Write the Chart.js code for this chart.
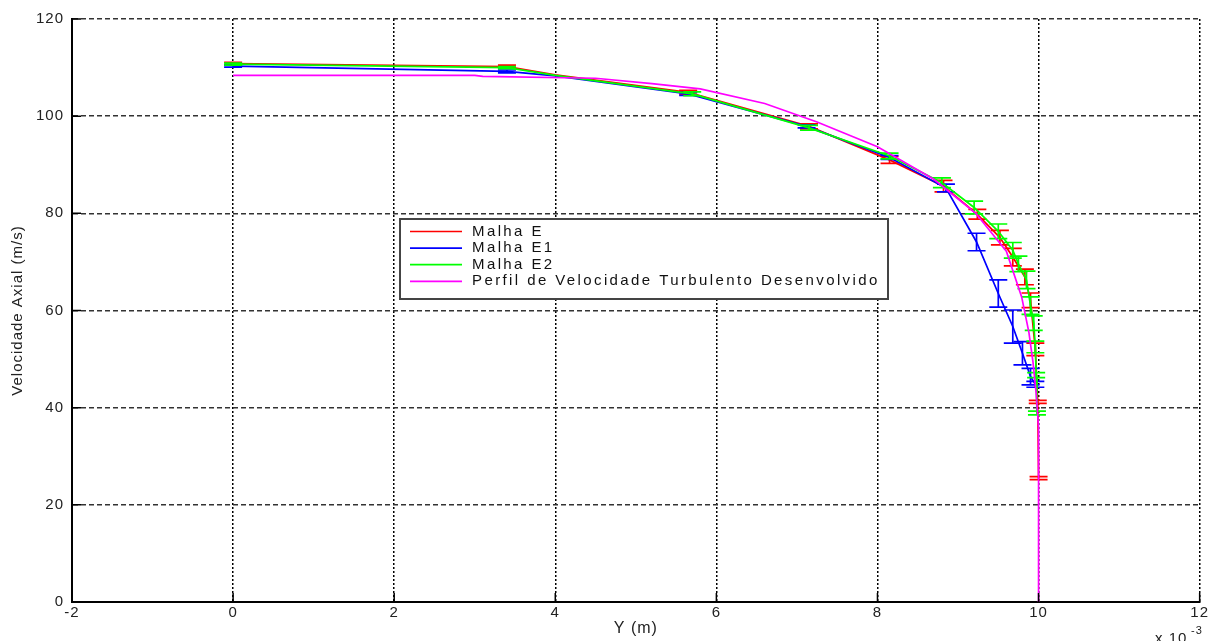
<!DOCTYPE html>
<html>
<head>
<meta charset="utf-8">
<title>Perfil de velocidade axial</title>
<script src="https://cdn.jsdelivr.net/npm/chart.js@4.4.1/dist/chart.umd.min.js"></script>
<style>
  html, body { margin: 0; padding: 0; background: #fff; }
  #wrap { width: 1210px; height: 641px; position: relative; }
</style>
</head>
<body>
<div id="wrap"><canvas id="perfil"></canvas></div>
<script>
// raio em mm (eixo mostrado como x 10^-3 m), velocidade em m/s
const xTicks = [-2, 0, 2, 4, 6, 8, 10, 12];
const yTicks = [0, 20, 40, 60, 80, 100, 120];

const posE  = [0, 3.4, 4.0, 5.65, 7.15, 8.15, 8.82, 9.24, 9.52, 9.68, 9.83, 9.9, 9.96, 9.99, 10.0];
const velE  = [110.8, 110.2, 108.5, 104.9, 97.9, 91.0, 85.6, 79.8, 75.0, 71.0, 66.9, 62.1, 52.0, 41.2, 25.5];
const errE  = [0.3, 0.3, null, 0.4, 0.5, 0.7, 1.2, 1.0, 1.5, 1.8, 1.6, 1.5, 1.3, 0.3, 0.3];

const posE1 = [0, 3.4, 4.0, 5.65, 7.12, 8.15, 8.85, 9.23, 9.5, 9.68, 9.8, 9.9, 9.96];
const velE1 = [110.3, 109.2, 108.3, 104.6, 97.9, 91.5, 85.2, 74.1, 63.5, 56.7, 51.2, 46.4, 44.8];
const errE1 = [0.2, 0.3, null, 0.3, 0.3, 0.4, 0.8, 1.8, 2.8, 3.4, 2.4, 1.7, 0.6];

const posE2 = [0, 3.4, 4.0, 5.7, 7.15, 8.15, 8.8, 9.2, 9.5, 9.68, 9.75, 9.85, 9.9, 9.94, 9.96, 9.97, 9.98];
const velE2 = [110.7, 110.0, 108.4, 104.6, 97.6, 91.8, 86.3, 81.2, 76.3, 72.4, 69.6, 66.3, 61.0, 57.4, 52.5, 46.7, 38.9];
const errE2 = [0.2, 0.2, null, 0.4, 0.5, 0.6, 1.0, 1.3, 1.5, 1.6, 1.6, 1.8, 1.8, 1.5, 1.2, 0.5, 0.4];

const posPerfil = [0, 3.0, 3.1, 4.5, 5.2, 5.8, 6.6, 7.25, 8.0, 8.7, 9.22, 9.6, 9.79, 9.88, 9.93, 9.97, 10.0, 10.0];
const velPerfil = [108.4, 108.4, 108.2, 107.8, 106.7, 105.6, 102.6, 98.8, 93.7, 87.0, 80.0, 72.2, 62.8, 55.5, 49.5, 43.0, 36.0, 0];

const FONT = 'Liberation Sans';
const CAP = 9;

function pares(xs, ys) {
    return xs.map(function (x, i) { return { x: x, y: ys[i] }; });
}

function serie(label, xs, ys, cor, erro, ordem) {
    return {
        label: label,
        data: pares(xs, ys),
        borderColor: cor,
        backgroundColor: cor,
        borderWidth: 1.7,
        pointRadius: 0,
        tension: 0,
        order: ordem,
        erro: erro
    };
}

// texto um pouco espaçado em todo o gráfico
var espaco = {
    id: 'espaco',
    beforeDraw: function (chart) { chart.ctx.letterSpacing = '1px'; }
};

// barras de erro verticais com tracinhos nas pontas
var errorBars = {
    id: 'errorBars',
    afterDatasetDraw: function (chart, args) {
        var ds = chart.data.datasets[args.index];
        if (!ds.erro) return;
        var ctx = chart.ctx, sx = chart.scales.x, sy = chart.scales.y;
        ctx.save();
        ctx.strokeStyle = ds.borderColor;
        ctx.lineWidth = 1.7;
        ds.data.forEach(function (p, i) {
            var e = ds.erro[i];
            if (e == null) return;
            var px = sx.getPixelForValue(p.x);
            var top = sy.getPixelForValue(p.y + e);
            var bot = sy.getPixelForValue(p.y - e);
            ctx.beginPath();
            ctx.moveTo(px, top); ctx.lineTo(px, bot);
            ctx.moveTo(px - CAP, top); ctx.lineTo(px + CAP, top);
            ctx.moveTo(px - CAP, bot); ctx.lineTo(px + CAP, bot);
            ctx.stroke();
        });
        ctx.restore();
    }
};

// marcas internas dos eixos, legenda em caixa e o fator x 10^-3
var extras = {
    id: 'extras',
    afterDraw: function (chart) {
        var ctx = chart.ctx, a = chart.chartArea;
        var sx = chart.scales.x, sy = chart.scales.y;
        ctx.save();
        ctx.strokeStyle = '#000';
        ctx.lineWidth = 1.5;
        ctx.beginPath();
        xTicks.forEach(function (v) {
            var px = sx.getPixelForValue(v);
            ctx.moveTo(px, a.bottom); ctx.lineTo(px, a.bottom - 9);
        });
        yTicks.forEach(function (v) {
            var py = sy.getPixelForValue(v);
            ctx.moveTo(a.left, py); ctx.lineTo(a.left + 9, py);
        });
        ctx.stroke();

        // legenda
        var bx = 400, by = 219, bw = 488, bh = 80;
        ctx.fillStyle = '#fff';
        ctx.fillRect(bx, by, bw, bh);
        ctx.strokeStyle = '#444';
        ctx.lineWidth = 2;
        ctx.strokeRect(bx, by, bw, bh);
        ctx.font = '15px "' + FONT + '"';
        ctx.letterSpacing = '2.4px';
        ctx.textBaseline = 'middle';
        ctx.textAlign = 'left';
        chart.data.datasets.forEach(function (ds, i) {
            var ly = by + 12.5 + i * 16.6;
            ctx.strokeStyle = ds.borderColor;
            ctx.lineWidth = 1.7;
            ctx.beginPath();
            ctx.moveTo(bx + 10, ly); ctx.lineTo(bx + 62, ly);
            ctx.stroke();
            ctx.fillStyle = '#111';
            ctx.fillText(ds.label, bx + 72, ly);
        });

        // fator de escala do eixo x
        ctx.letterSpacing = '1px';
        ctx.fillStyle = '#222';
        ctx.textBaseline = 'alphabetic';
        ctx.font = '15px "' + FONT + '"';
        ctx.fillText('x 10', 1155, 643);
        ctx.font = '11px "' + FONT + '"';
        ctx.fillText('-3', 1191, 634);
        ctx.restore();
    }
};

new Chart(document.getElementById('perfil'), {
    type: 'line',
    data: {
        datasets: [
            serie('Malha E', posE, velE, '#ff0000', errE, 3),
            serie('Malha E1', posE1, velE1, '#0000ff', errE1, 2),
            serie('Malha E2', posE2, velE2, '#00ff00', errE2, 1),
            serie('Perfil de Velocidade Turbulento Desenvolvido', posPerfil, velPerfil, '#ff00ff', null, 0)
        ]
    },
    options: {
        responsive: true,
        maintainAspectRatio: false,
        animation: false,
        layout: { padding: { top: 19, right: 10, left: 0, bottom: 0 } },
        plugins: {
            legend: { display: false },
            tooltip: { enabled: false }
        },
        scales: {
            x: {
                type: 'linear',
                min: -2, max: 12,
                afterBuildTicks: function (s) { s.ticks = xTicks.map(function (v) { return { value: v }; }); },
                afterFit: function (s) { s.height = 39; },
                grid: { color: '#000', lineWidth: 1.5, drawTicks: false },
                border: { display: true, color: '#000', width: 2, dash: [2, 2] },
                ticks: { color: '#222', padding: 2, font: { family: FONT, size: 15 } },
                title: {
                    display: true, text: 'Y (m)', color: '#222',
                    font: { family: FONT, size: 16 },
                    padding: { top: 0, bottom: 3 }
                }
            },
            y: {
                min: 0, max: 120,
                afterBuildTicks: function (s) { s.ticks = yTicks.map(function (v) { return { value: v }; }); },
                afterFit: function (s) { s.width = 72; },
                grid: { color: '#333', lineWidth: 1.5, drawTicks: false },
                border: { display: true, color: '#000', width: 2, dash: [5, 3] },
                ticks: { color: '#222', padding: 8, font: { family: FONT, size: 15 } },
                title: {
                    display: true, text: 'Velocidade Axial (m/s)', color: '#222',
                    font: { family: FONT, size: 15 },
                    padding: { top: 9, bottom: 0 }
                }
            }
        }
    },
    plugins: [espaco, errorBars, extras]
});
</script>
</body>
</html>
